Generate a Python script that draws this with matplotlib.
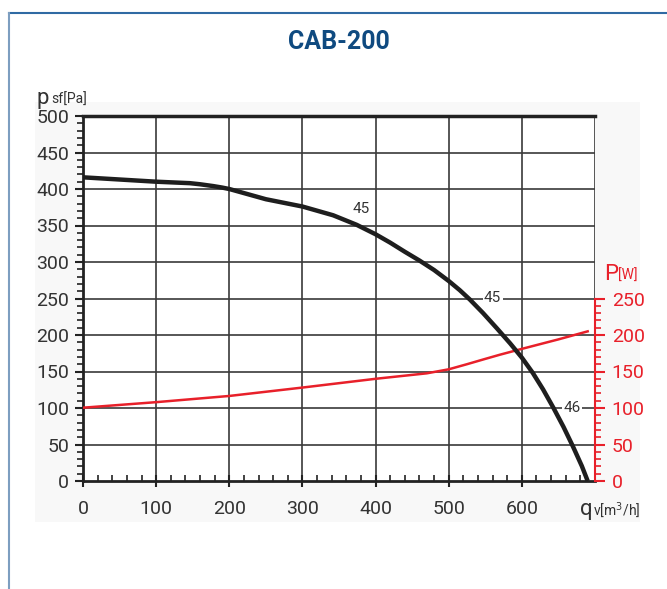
import matplotlib
matplotlib.use('Agg')
import matplotlib.pyplot as plt
from matplotlib.patches import Rectangle
from matplotlib.lines import Line2D
from matplotlib.ticker import MultipleLocator

plt.rcParams['font.family'] = ['Roboto', 'DejaVu Sans']

# static pressure curve (black)
q_psf = [0, 50, 100, 146, 160, 178, 190, 200, 225, 250, 300, 342, 374, 400, 420, 440, 460,
         480, 500, 515, 529, 547, 566, 584, 600, 615, 629, 643, 657, 670, 682, 690]
psf = [416, 413, 410, 408, 406.5, 404, 402, 400, 393, 386, 376, 364, 351, 338, 326.5, 314, 302,
       289, 274, 261.5, 248.5, 230, 209, 188.5, 169, 148, 125.5, 100.5, 74, 47, 20.5, 0]

# power curve (red)
q_pow = [0, 100, 200, 300, 400, 470, 500, 525, 549, 570, 600, 650, 690]
power = [100.4, 108, 116.5, 128, 140, 147.5, 153, 160, 167, 173, 181, 194, 205]

x_ticks = [0, 100, 200, 300, 400, 500, 600]
y_ticks = [0, 50, 100, 150, 200, 250, 300, 350, 400, 450, 500]
p_ticks = [0, 50, 100, 150, 200, 250]

# curve labels: (q, value, text)
curve_labels = [(381, 372, '45'), (560, 250, '45'), (669, 100, '46')]

red = '#e8202a'
grid_c = '#3a3a3a'
txt_c = '#333333'

fig = plt.figure(figsize=(6.67, 5.89), dpi=100)
W, H = 667, 589

# light panel behind the chart
fig.add_artist(Rectangle((35 / W, 1 - 522 / H), 605 / W, 420 / H,
                         transform=fig.transFigure, facecolor='#f8f8f8',
                         edgecolor='none', zorder=-5))
# frame lines
fig.add_artist(Line2D([9 / W, 1], [1 - 13 / H, 1 - 13 / H], transform=fig.transFigure,
                      color='#2f6aa3', lw=1.5))
fig.add_artist(Line2D([9 / W, 9 / W], [0, 1 - 13 / H], transform=fig.transFigure,
                      color='#7d9ec0', lw=1.5))

ax = fig.add_axes([83 / W, 1 - 481 / H, 512 / W, 365 / H])
ax.set_facecolor('white')
ax.set_xlim(0, 700)
ax.set_ylim(0, 500)

for s in ['top', 'right']:
    ax.spines[s].set_visible(False)
ax.spines['left'].set_linewidth(2)
ax.spines['bottom'].set_linewidth(2)
ax.spines['left'].set_color('#222222')
ax.spines['bottom'].set_color('#222222')

# grid
for x in x_ticks[1:] + [700]:
    ax.axvline(x, color=grid_c, lw=1.2, zorder=1)
for y in y_ticks[1:-1]:
    ax.axhline(y, color=grid_c, lw=1.2, zorder=1)
ax.axhline(500, color='#222222', lw=2.5, zorder=1, clip_on=False)

ax.set_xticks(x_ticks)
ax.set_yticks(y_ticks)
ax.xaxis.set_minor_locator(MultipleLocator(20))
ax.yaxis.set_minor_locator(MultipleLocator(10))
ax.tick_params(axis='y', which='major', direction='out', length=6, width=1.5,
               labelsize=14, pad=4, colors='#222222', labelcolor=txt_c)
ax.tick_params(axis='y', which='minor', direction='out', length=4, width=1.2, colors='#222222')
ax.tick_params(axis='x', which='major', direction='inout', length=8, width=1.5,
               labelsize=14, pad=10, colors='#222222', labelcolor=txt_c)
ax.tick_params(axis='x', which='minor', direction='in', length=4, width=1.2, colors='#222222')

ax.plot(q_psf, psf, color='#1e1e1e', lw=3.2, zorder=4, solid_capstyle='butt',
        solid_joinstyle='round')
ax.plot(q_pow, power, color=red, lw=1.8, zorder=3, solid_joinstyle='round')

for qx, v, t in curve_labels:
    ax.text(qx, v, t, fontsize=11, color=txt_c, ha='center', va='center', zorder=5,
            bbox=dict(facecolor='white', edgecolor='none', pad=1))

# right power axis
ax2 = ax.twinx()
ax2.set_ylim(0, 500)
for s in ['top', 'left', 'bottom']:
    ax2.spines[s].set_visible(False)
ax2.spines['right'].set_color(red)
ax2.spines['right'].set_linewidth(1.5)
ax2.spines['right'].set_bounds(0, 250)
ax2.set_yticks(p_ticks)
ax2.set_yticks([v for v in range(0, 251, 10) if v % 50], minor=True)
ax2.tick_params(axis='y', which='major', direction='out', length=7, width=1.5,
                labelsize=14, pad=5, colors=red, labelcolor=red)
ax2.tick_params(axis='y', which='minor', direction='out', length=4, width=1.2, colors=red)

# axis labels
fig.text(37 / W, 1 - 104 / H, 'p', fontsize=16, color=txt_c, ha='left', va='baseline')
fig.text(51 / W, 1 - 104 / H, 'sf[Pa]', fontsize=10, color=txt_c, ha='left', va='baseline')
fig.text(604 / W, 1 - 280 / H, 'P', fontsize=16, color=red, ha='left', va='baseline')
fig.text(618 / W, 1 - 280 / H, '[W]', fontsize=10, color=red, ha='left', va='baseline')
fig.text(580 / W, 1 - 515 / H, 'q', fontsize=16, color=txt_c, ha='left', va='baseline')
fig.text(593 / W, 1 - 515 / H, 'v[m$^3$/h]', fontsize=10, color=txt_c, ha='left', va='baseline')

fig.text(339 / W, 1 - 42 / H, 'CAB-200', fontsize=18, fontweight='bold', color='#0f4a80',
         ha='center', va='center')

fig.savefig('out.png', dpi=100)
